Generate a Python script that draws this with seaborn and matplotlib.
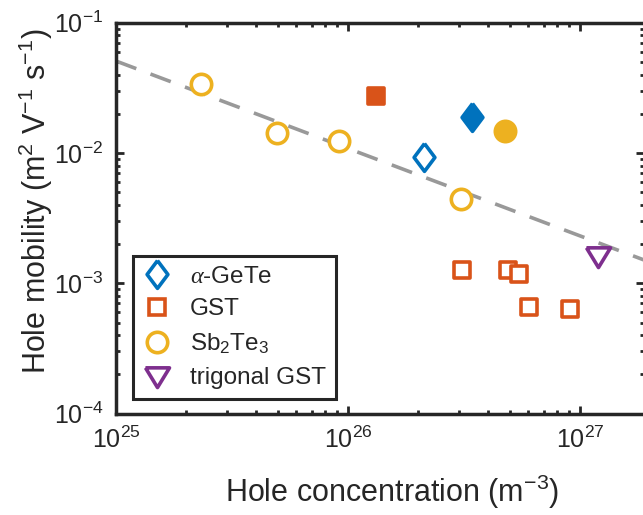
import numpy as np
import pandas as pd
import matplotlib
matplotlib.use("Agg")
import matplotlib.pyplot as plt
import seaborn as sns
from matplotlib.lines import Line2D

# ---------------- data ----------------
gete_open_x = [2.13e26]
gete_open_y = [9.37e-3]
gete_fill_x = [3.44e26]
gete_fill_y = [1.88e-2]

gst_open_x = [3.09e26, 4.88e26, 5.46e26, 6.05e26, 9.06e26]
gst_open_y = [1.265e-3, 1.265e-3, 1.17e-3, 6.6e-4, 6.35e-4]
gst_fill_x = [1.32e26]
gst_fill_y = [2.74e-2]

sbte_open_x = [2.32e25, 4.93e25, 9.14e25, 3.06e26]
sbte_open_y = [3.36e-2, 1.416e-2, 1.242e-2, 4.44e-3]
sbte_fill_x = [4.75e26]
sbte_fill_y = [1.483e-2]

trig_x = [1.2e27]
trig_y = [1.63e-3]

fit_x = [1e25, 1.89e27]
fit_y = [5.08e-2, 1.51e-3]

legend_labels = [r"$\mathit{\alpha}$-GeTe", "GST", r"Sb$_2$Te$_3$", "trigonal GST"]
x_label = r"Hole concentration (m$^{-3}$)"
y_label = r"Hole mobility (m$^2$ V$^{-1}$ s$^{-1}$)"

# ---------------- style ----------------
sns.set_style("ticks")
plt.rcParams["font.family"] = ["Liberation Sans", "DejaVu Sans"]
plt.rcParams["mathtext.fontset"] = "custom"
plt.rcParams["mathtext.rm"] = "Liberation Sans"
plt.rcParams["mathtext.it"] = "Liberation Serif:italic"
plt.rcParams["mathtext.default"] = "regular"

DARK = "#262626"
BLUE = "#0072BD"
ORANGE = "#D95319"
YELLOW = "#EDB120"
PURPLE = "#7E2F8E"

diamond = [(0, 1), (0.75, 0), (0, -1), (-0.75, 0), (0, 1)]
tri_down = [(-1, 0.72), (1, 0.72), (0, -0.92), (-1, 0.72)]

fig = plt.figure(figsize=(6.43, 5.15), dpi=100)
W, H = 643, 515
ax = fig.add_axes([116 / W, 1 - 413.6 / H, (644 - 116) / W, (413.6 - 22.7) / H])
ax.set_xscale("log")
ax.set_yscale("log")

# dashed fit line
sns.lineplot(x=fit_x, y=fit_y, ax=ax, color="#999999", linewidth=2.6,
             linestyle="--", zorder=1)
ax.lines[-1].set_dashes([6.0, 4.2])

LW = 2.6
def pts(x, y, marker, s, color, filled):
    sns.scatterplot(x=x, y=y, ax=ax, marker=marker, s=s, color=color,
                    facecolor=(color if filled else "white"), edgecolor=color,
                    linewidth=LW, zorder=3, legend=False)

pts(sbte_open_x, sbte_open_y, "o", 215, YELLOW, False)
pts(sbte_fill_x, sbte_fill_y, "o", 215, YELLOW, True)
pts(gete_open_x, gete_open_y, diamond, 400, BLUE, False)
pts(gete_fill_x, gete_fill_y, diamond, 400, BLUE, True)
pts(gst_open_x, gst_open_y, "s", 130, ORANGE, False)
pts(gst_fill_x, gst_fill_y, "s", 130, ORANGE, True)
pts(trig_x, trig_y, tri_down, 300, PURPLE, False)

ax.set_xlim(1e25, 1.89e27)
ax.set_ylim(1e-4, 1e-1)

for sp in ax.spines.values():
    sp.set_linewidth(2.5)
    sp.set_color(DARK)
    sp.set_visible(True)

ax.tick_params(which="both", direction="in", top=True, right=True,
               colors=DARK, labelcolor=DARK)
ax.tick_params(which="major", length=6, width=2.0, labelsize=18, pad=9)
ax.tick_params(which="minor", length=3, width=2.0)
ax.xaxis.set_major_locator(matplotlib.ticker.LogLocator(base=10, numticks=10))
ax.yaxis.set_major_locator(matplotlib.ticker.LogLocator(base=10, numticks=10))

ax.set_xlabel(x_label, fontsize=22, color=DARK)
ax.set_ylabel(y_label, fontsize=22, color=DARK)
ax.xaxis.set_label_coords((392 - 116) / 528, -(492 - 413.6) / 390.9)
ax.yaxis.set_label_coords(-(116 - 36) / 528, (413.6 - 201) / 390.9)
ax.xaxis.label.set_va("center")
ax.yaxis.label.set_va("center")

handles = [
    Line2D([], [], ls="none", marker=diamond, markersize=20, mfc="white", mec=BLUE, mew=LW),
    Line2D([], [], ls="none", marker="s", markersize=11.4, mfc="white", mec=ORANGE, mew=LW),
    Line2D([], [], ls="none", marker="o", markersize=14.7, mfc="white", mec=YELLOW, mew=LW),
    Line2D([], [], ls="none", marker=tri_down, markersize=17.3, mfc="white", mec=PURPLE, mew=LW),
]
leg = ax.legend(handles, legend_labels, loc="lower left",
                bbox_to_anchor=((133 - 116) / 528, (413.6 - 399) / 390.9),
                borderaxespad=0, fontsize=17.5, frameon=True, fancybox=False,
                framealpha=1, edgecolor=DARK, handlelength=1.2,
                handletextpad=0.75, labelspacing=0.45, borderpad=0.4)
leg.get_frame().set_linewidth(2.2)
for t in leg.get_texts():
    t.set_color(DARK)

fig.savefig("out.png", dpi=100)
